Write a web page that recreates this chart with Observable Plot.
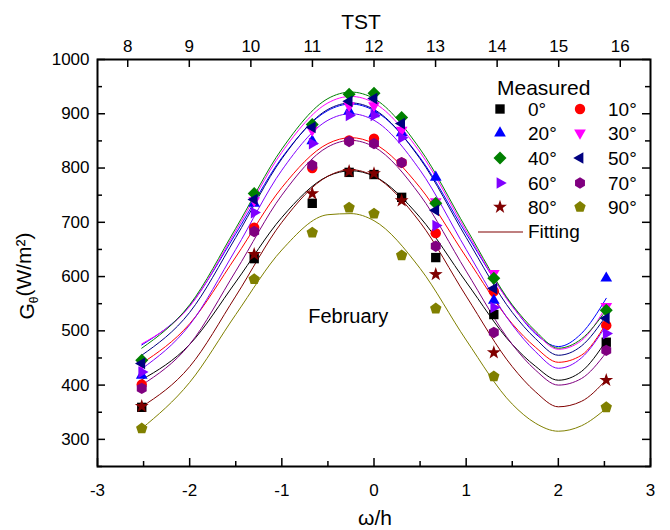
<!DOCTYPE html>
<html><head><meta charset="utf-8">
<script src="https://cdn.jsdelivr.net/npm/d3@7"></script>
<script src="https://cdn.jsdelivr.net/npm/@observablehq/plot@0.6"></script>
<style>
body{margin:0;background:#fff}
#chart{width:670px;height:530px}
</style>
</head><body><div id="chart"></div>
<script>
// ---------- data ----------
const angleLabels = ["0°","10°","20°","30°","40°","50°","60°","70°","80°","90°"];
const colors = ["#000000","#ff0000","#0000ff","#ff00ff","#008000","#000080","#8000ff","#800080","#800000","#808000"];

// measured points (x = ω in h)
const measuredX = [-2.52, -1.3, -0.67, -0.27, 0, 0.3, 0.67, 1.3, 2.52];
const meas0  = [359, 633, 735, 792, 788, 746, 635, 530, 479];
const meas10 = [401, 690, 800, 851, 854, 810, 680, 573, 510];
const meas20 = [418, 735, 850, 905, 900, 865, 783, 556, 597];
const meas30 = [440, 740, 870, 915, 915, 870, 738, 606, 545];
const meas40 = [446, 753, 880, 936, 938, 893, 735, 597, 538];
const meas50 = [440, 742, 875, 923, 928, 882, 722, 578, 523];
const meas60 = [424, 718, 845, 897, 897, 856, 694, 543, 495];
const meas70 = [394, 683, 805, 849, 845, 810, 656, 497, 464];
const meas80 = [361, 641, 753, 794, 790, 740, 604, 460, 409];
const meas90 = [320, 595, 681, 727, 716, 639, 541, 416, 359];

// fitted curves at these ω positions
const fitX  = [-2.52, -2, -1.5, -1, -0.5, -0.25, 0, 0.5, 1, 1.5, 1.75, 2, 2.25, 2.52];
const fit0  = [410, 475, 590, 709, 785, 795, 785, 709, 590, 475, 435, 409, 425, 482];
const fit10 = [440, 513, 636, 764, 845, 856, 845, 764, 636, 513, 470, 442, 455, 514];
const fit20 = [474, 546, 679, 819, 906, 918, 906, 819, 679, 546, 495, 471, 495, 560];
const fit30 = [476, 545, 684, 829, 920, 932, 920, 829, 684, 545, 497, 466, 482, 545];
const fit40 = [468, 548, 689, 835, 928, 940, 928, 835, 689, 548, 500, 468, 485, 538];
const fit50 = [455, 534, 672, 817, 908, 920, 908, 817, 672, 534, 486, 455, 472, 528];
const fit60 = [430, 511, 650, 796, 888, 900, 888, 796, 650, 511, 462, 431, 450, 510];
const fit70 = [400, 475, 610, 750, 839, 851, 839, 750, 610, 475, 428, 400, 412, 460];
const fit80 = [360, 434, 564, 700, 785, 797, 785, 700, 564, 434, 388, 360, 370, 410];
const fit90 = [320, 405, 530, 649, 714, 716, 703, 615, 483, 365, 330, 315, 325, 357];

// axes
const xTicks = [-3, -2, -1, 0, 1, 2, 3];
const xMinor = [-2.5, -1.5, -0.5, 0.5, 1.5, 2.5];
const yTicks = [300, 400, 500, 600, 700, 800, 900, 1000];
const yMinor = [250, 350, 450, 550, 650, 750, 850, 950];
const tstTicks = [8, 9, 10, 11, 12, 13, 14, 15, 16];
const tstNoon = 12, omegaPerHour = 0.668;
const annotation = {text: "February", x: -0.28, y: 526};

// ---------- symbols ----------
function poly(fn){return {draw(ctx,size){const r=Math.sqrt(size/Math.PI);const p=fn(r);p.forEach(([x,y],i)=>i?ctx.lineTo(x,y):ctx.moveTo(x,y));ctx.closePath();}};}
const regular=(n,k,rot)=>poly(r=>d3.range(n).map(i=>{const a=rot+i*2*Math.PI/n;return [k*r*Math.sin(a),-k*r*Math.cos(a)];}));
const symSquare=poly(r=>{const h=0.9*r;return [[-h,-h],[h,-h],[h,h],[-h,h]];});
const symCircle={draw(ctx,size){const r=Math.sqrt(size/Math.PI);ctx.moveTo(r,0);ctx.arc(0,0,r,0,2*Math.PI);}};
const symStar=poly(r=>d3.range(10).map(i=>{const a=i*Math.PI/5;const R=(i%2?0.55:1.4)*r;return [R*Math.sin(a),-R*Math.cos(a)];}));
const symbols=[symSquare,symCircle,regular(3,1.3,0),regular(3,1.3,Math.PI),regular(4,1.25,0),
  regular(3,1.3,-Math.PI/2),regular(3,1.3,Math.PI/2),regular(6,1.1,0),symStar,regular(5,1.15,0)];

const measured=[meas0,meas10,meas20,meas30,meas40,meas50,meas60,meas70,meas80,meas90];
const fits=[fit0,fit10,fit20,fit30,fit40,fit50,fit60,fit70,fit80,fit90];

// ---------- plot ----------
const W=670,H=530,mL=97,mR=20,mT=59,mB=64;
const fw=W-mL-mR, fh=H-mT-mB;
const font="'Liberation Sans', Arial, sans-serif";

const plot=Plot.plot({
  width:W,height:H,marginLeft:mL,marginRight:mR,marginTop:mT,marginBottom:mB,
  x:{domain:[-3,3]},
  y:{domain:[250,1000]},
  style:{fontFamily:font,fontSize:"17px",color:"black",background:"white",overflow:"visible"},
  marks:[
    ...fits.map((ys,k)=>Plot.line(fitX.map((x,i)=>({x,y:ys[i]})),{x:"x",y:"y",stroke:colors[k],strokeWidth:1,curve:"monotone-x"})),
    ...measured.map((ys,k)=>Plot.dot(measuredX.map((x,i)=>({x,y:ys[i]})),{x:"x",y:"y",fill:colors[k],symbol:symbols[k],r:5.2})),
    Plot.text([annotation],{x:"x",y:"y",text:"text",fontSize:20,fill:"black"}),
    // inward ticks
    Plot.tickY(yTicks,{y:d=>d,insetRight:fw-8,strokeWidth:1.5}),
    Plot.tickY(yMinor,{y:d=>d,insetRight:fw-5,strokeWidth:1.5}),
    Plot.tickY(yTicks,{y:d=>d,insetLeft:fw-8,strokeWidth:1.5}),
    Plot.tickY(yMinor,{y:d=>d,insetLeft:fw-5,strokeWidth:1.5}),
    Plot.tickX(xTicks,{x:d=>d,insetTop:fh-8,strokeWidth:1.5}),
    Plot.tickX(xMinor,{x:d=>d,insetTop:fh-5,strokeWidth:1.5}),
    Plot.tickX(tstTicks.map(t=>(t-tstNoon)*omegaPerHour),{x:d=>d,insetBottom:fh-8,strokeWidth:1.5}),
    // labels
    Plot.axisY(yTicks,{anchor:"left",tickSize:0,tickPadding:8,label:null,fontSize:17,tickFormat:d=>String(d)}),
    Plot.axisX(xTicks,{anchor:"bottom",tickSize:0,tickPadding:17,label:null,fontSize:17,tickFormat:d=>String(d)}),
    Plot.axisX(tstTicks.map(t=>(t-tstNoon)*omegaPerHour),{anchor:"top",tickSize:0,tickPadding:8,label:null,fontSize:17,
      tickFormat:d=>String(Math.round(tstNoon+d/omegaPerHour))}),
    Plot.frame({stroke:"black",strokeWidth:2})
  ]
});
document.getElementById("chart").appendChild(plot);

// ---------- titles & legend ----------
const svg=d3.select(plot);
const g=svg.append("g").style("font-family",font).attr("fill","black");
g.append("text").attr("x",375).attr("y",525).attr("text-anchor","middle").style("font-size","21px").text("ω/h");
g.append("text").attr("x",361).attr("y",29).attr("text-anchor","middle").style("font-size","21px").text("TST");
const yl=g.append("text").attr("transform","translate(34,276) rotate(-90)").attr("text-anchor","middle").style("font-size","21px");
yl.append("tspan").text("G");
yl.append("tspan").attr("dy","0.35em").style("font-size","12px").text("θ");
yl.append("tspan").attr("dy","-0.35em").text("(W/m²)");

const leg=g.append("g").attr("text-anchor","start");
leg.append("text").attr("x",497).attr("y",95).style("font-size","21px").text("Measured");
const rowsY=[109,133,158,183,207];
angleLabels.forEach((a,k)=>{
  const col=k%2,row=Math.floor(k/2);
  const sx=col?580:500, tx=col?608:528, y=rowsY[row];
  leg.append("path").attr("transform",`translate(${sx},${y})`)
    .attr("d",d3.symbol(symbols[k],Math.PI*5.2*5.2)()).attr("fill",colors[k]);
  leg.append("text").attr("x",tx).attr("y",y).attr("dy","0.36em").style("font-size","19px").text(a);
});
leg.append("line").attr("x1",478).attr("x2",523).attr("y1",232).attr("y2",232).attr("stroke",colors[8]).attr("stroke-width",1.2);
leg.append("text").attr("x",528).attr("y",231).attr("dy","0.36em").style("font-size","19px").text("Fitting");
</script>
</body></html>
